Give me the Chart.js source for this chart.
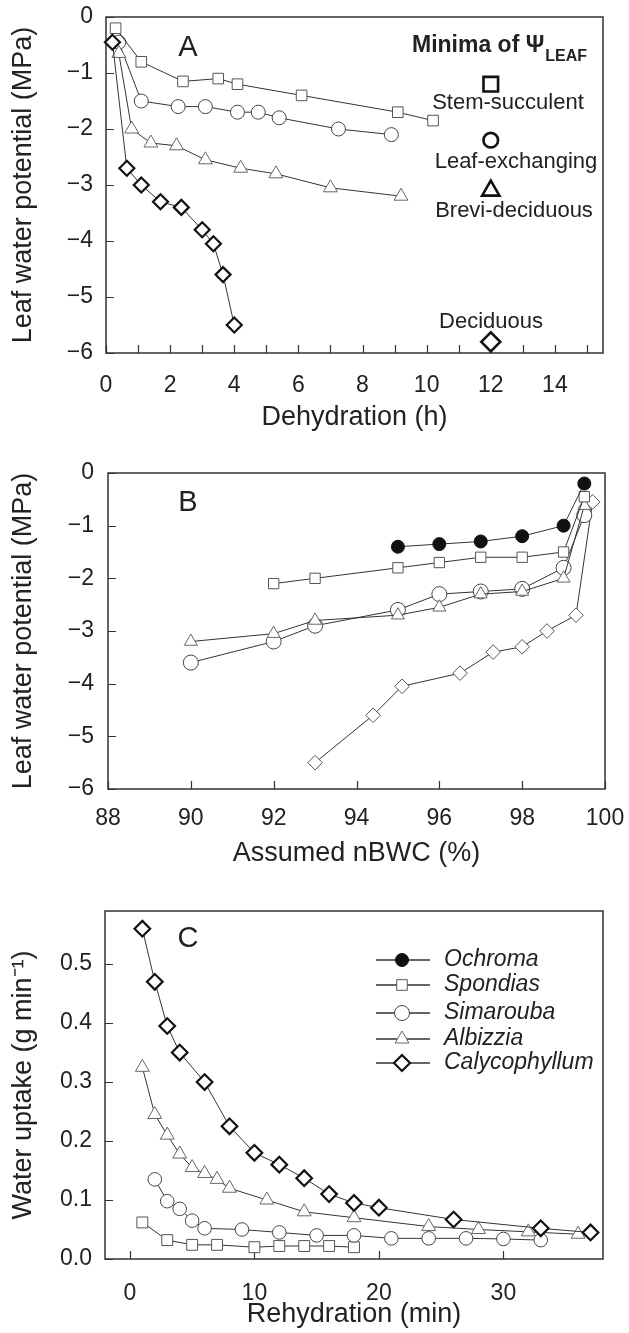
<!DOCTYPE html>
<html><head><meta charset="utf-8">
<script src="https://cdn.jsdelivr.net/npm/chart.js@4/dist/chart.umd.min.js"></script>
<style>
html,body{margin:0;padding:0;background:#fff;width:629px;height:1333px;overflow:hidden}
canvas{position:absolute;left:0}
</style></head><body>
<canvas id="cA" width="629" height="440" style="top:0px"></canvas>
<canvas id="cB" width="629" height="430" style="top:440px"></canvas>
<canvas id="cC" width="629" height="463" style="top:870px"></canvas>
<script>
// ---------- Panel A data: dehydration (h) vs leaf water potential (MPa)
const stemX  = [0.3, 1.1, 2.4, 3.5, 4.1, 6.1, 9.1, 10.2];
const stemY  = [-0.2, -0.8, -1.15, -1.1, -1.2, -1.4, -1.7, -1.85];
const leafX  = [0.4, 1.1, 2.25, 3.1, 4.1, 4.75, 5.4, 7.25, 8.9];
const leafY  = [-0.45, -1.5, -1.6, -1.6, -1.7, -1.7, -1.8, -2.0, -2.1];
const breviX = [0.4, 0.8, 1.4, 2.2, 3.1, 4.2, 5.3, 7.0, 9.2];
const breviY = [-0.65, -2.0, -2.25, -2.3, -2.55, -2.7, -2.8, -3.05, -3.2];
const decidX = [0.2, 0.65, 1.1, 1.7, 2.35, 3.0, 3.35, 3.65, 4.0];
const decidY = [-0.45, -2.7, -3.0, -3.3, -3.4, -3.8, -4.05, -4.6, -5.5];
const minimaX = [12, 12, 12, 12];
const minimaY = [-1.2, -2.2, -3.1, -5.8];
const minimaLabels = ['Stem-succulent', 'Leaf-exchanging', 'Brevi-deciduous', 'Deciduous'];
const aTicksX = [0,1,2,3,4,5,6,7,8,9,10,11,12,13,14,15];
const aTicksY = [-6,-5,-4,-3,-2,-1,0];

// ---------- Panel B data: assumed nBWC (%) vs leaf water potential (MPa)
const ochX = [95, 96, 97, 98, 99, 99.5];
const ochY = [-1.4, -1.35, -1.3, -1.2, -1.0, -0.2];
const spoX = [92, 93, 95, 96, 97, 98, 99, 99.5];
const spoY = [-2.1, -2.0, -1.8, -1.7, -1.6, -1.6, -1.5, -0.45];
const simX = [90, 92, 93, 95, 96, 97, 98, 99, 99.5];
const simY = [-3.6, -3.2, -2.9, -2.6, -2.3, -2.25, -2.2, -1.8, -0.8];
const albX = [90, 92, 93, 95, 96, 97, 98, 99, 99.5];
const albY = [-3.2, -3.05, -2.8, -2.7, -2.55, -2.3, -2.25, -2.0, -0.62];
const calX = [93, 94.4, 95.1, 96.5, 97.3, 98, 98.6, 99.3, 99.7];
const calY = [-5.5, -4.6, -4.05, -3.8, -3.4, -3.3, -3.0, -2.7, -0.55];
const bTicksX = [88, 90, 92, 94, 96, 98, 100];
const bTicksY = [-6,-5,-4,-3,-2,-1,0];

// ---------- Panel C data: rehydration (min) vs water uptake (g/min)
const cCalX = [1, 2, 3, 4, 6, 8, 10, 12, 14, 16, 18, 20, 26, 33, 37];
const cCalY = [0.56, 0.47, 0.395, 0.35, 0.30, 0.225, 0.18, 0.16, 0.137, 0.11, 0.095, 0.087, 0.067, 0.052, 0.045];
const cAlbX = [1, 2, 3, 4, 5, 6, 7, 8, 11, 14, 18, 24, 28, 32, 36];
const cAlbY = [0.325, 0.245, 0.21, 0.178, 0.155, 0.145, 0.135, 0.12, 0.1, 0.08, 0.07, 0.055, 0.05, 0.046, 0.042];
const cSimX = [2, 3, 4, 5, 6, 9, 12, 15, 18, 21, 24, 27, 30, 33];
const cSimY = [0.135, 0.098, 0.085, 0.065, 0.052, 0.05, 0.045, 0.04, 0.04, 0.035, 0.035, 0.035, 0.034, 0.032];
const cSpoX = [1, 3, 5, 7, 10, 12, 14, 16, 18];
const cSpoY = [0.062, 0.032, 0.024, 0.024, 0.02, 0.022, 0.022, 0.022, 0.02];
const cTicksX = [0, 10, 20, 30];
const cTicksY = [0, 0.1, 0.2, 0.3, 0.4, 0.5];
const speciesNames = ['Ochroma', 'Spondias', 'Simarouba', 'Albizzia', 'Calycophyllum'];

// ---------- helpers
const FONT = "'Liberation Sans', Arial, Helvetica, sans-serif";
const INK = '#222';
const TICK_IN = 8;
const minusFmt = v => { const r = Math.round(v * 10) / 10; return r < 0 ? '\u2212' + Math.abs(r) : String(Math.abs(r)); };
const pts = (xs, ys) => xs.map((x, i) => ({x: x, y: ys[i]}));

function series(xs, ys, style, opts) {
  return Object.assign({
    data: pts(xs, ys), showLine: true, borderColor: '#333', borderWidth: 1,
    pointStyle: style, pointRadius: 7, pointHoverRadius: 7,
    pointBackgroundColor: '#fff', pointBorderColor: '#555', pointBorderWidth: 1,
    clip: false, tension: 0, fill: false
  }, opts || {});
}

// outward tick space is kept (invisible) only to place labels; inward ticks are drawn by the frame plugin
function gridOpts(gap) {
  return { drawOnChartArea: false, drawTicks: true, tickLength: gap, color: 'rgba(0,0,0,0)', lineWidth: 1 };
}

function scaleX(min, max, tickVals, label, fmt, gap, titlePadBottom, height) {
  return {
    type: 'linear', position: 'bottom', min: min, max: max,
    afterBuildTicks: s => { s.ticks = tickVals.map(v => ({value: v})); },
    afterFit: s => { s.height = height; },
    grid: gridOpts(gap), border: { display: false },
    ticks: { autoSkip: false, maxRotation: 0, minRotation: 0, padding: 0, color: INK,
             font: { family: FONT, size: 23 }, callback: fmt },
    title: { display: true, text: label, color: INK, font: { family: FONT, size: 27 },
             padding: { top: 0, bottom: titlePadBottom } }
  };
}

function scaleY(min, max, tickVals, label, fmt, gap, titlePadTop, width) {
  return {
    type: 'linear', position: 'left', min: min, max: max,
    afterBuildTicks: s => { s.ticks = tickVals.map(v => ({value: v})); },
    afterFit: s => { s.width = width; },
    grid: gridOpts(gap), border: { display: false },
    ticks: { autoSkip: false, padding: 0, color: INK,
             font: { family: FONT, size: 23 }, callback: fmt },
    title: { display: true, text: label, color: INK, font: { family: FONT, size: 27 },
             padding: { top: titlePadTop, bottom: 0 } }
  };
}

function marker(ctx, style, x, y, r, fill, stroke, lw) {
  ctx.save();
  ctx.beginPath();
  ctx.fillStyle = fill; ctx.strokeStyle = stroke; ctx.lineWidth = lw;
  if (style === 'circle') ctx.arc(x, y, r, 0, Math.PI * 2);
  else if (style === 'rect') { const s = r * Math.SQRT1_2; ctx.rect(x - s, y - s, 2 * s, 2 * s); }
  else if (style === 'triangle') {
    for (let k = 0; k < 3; k++) {
      const a = k * 2 * Math.PI / 3;
      const px = x + Math.sin(a) * r, py = y - Math.cos(a) * r;
      if (k) ctx.lineTo(px, py); else ctx.moveTo(px, py);
    }
    ctx.closePath();
  } else if (style === 'rectRot') {
    ctx.moveTo(x, y - r); ctx.lineTo(x + r, y); ctx.lineTo(x, y + r); ctx.lineTo(x - r, y); ctx.closePath();
  }
  ctx.fill(); ctx.stroke();
  ctx.restore();
}

function framePlugin(extra) {
  return {
    id: 'frame',
    beforeDatasetsDraw(chart) {
      const ctx = chart.ctx, a = chart.chartArea;
      const xs = chart.scales.x, ys = chart.scales.y;
      ctx.save();
      ctx.strokeStyle = '#333'; ctx.lineWidth = 1.2;
      ctx.beginPath();
      xs.ticks.forEach(t => {
        const px = Math.round(xs.getPixelForValue(t.value)) + 0.5;
        ctx.moveTo(px, a.bottom); ctx.lineTo(px, a.bottom - TICK_IN);
      });
      ys.ticks.forEach(t => {
        const py = Math.round(ys.getPixelForValue(t.value)) + 0.5;
        ctx.moveTo(a.left, py); ctx.lineTo(a.left + TICK_IN, py);
      });
      ctx.stroke();
      ctx.lineWidth = 1.5;
      ctx.strokeRect(a.left, a.top, a.right - a.left, a.bottom - a.top);
      ctx.restore();
    },
    afterDraw(chart) { if (extra) extra(chart.ctx, chart); }
  };
}

const baseOptions = (padding, xs, ys) => ({
  responsive: false, animation: false, devicePixelRatio: 1, events: [],
  layout: { padding: padding },
  plugins: { legend: { display: false }, tooltip: { enabled: false } },
  scales: { x: xs, y: ys }
});

// ---------- Panel A
function drawA(ctx) {
  ctx.save();
  ctx.fillStyle = INK;
  ctx.textBaseline = 'alphabetic';
  ctx.textAlign = 'center';
  ctx.font = '29px ' + FONT;
  ctx.fillText('A', 188, 56);
  ctx.textAlign = 'left';
  ctx.font = 'bold 23px ' + FONT;
  const main = 'Minima of \u03A8';
  ctx.fillText(main, 412, 52);
  const w = ctx.measureText(main).width;
  ctx.font = 'bold 16px ' + FONT;
  ctx.fillText('LEAF', 412 + w + 1, 61);
  ctx.font = '22px ' + FONT;
  ctx.textAlign = 'center';
  const lx = [508, 516, 514, 491];
  const ly = [109, 168, 217, 328];
  minimaLabels.forEach((t, i) => ctx.fillText(t, lx[i], ly[i]));
  ctx.restore();
}

new Chart(document.getElementById('cA'), {
  type: 'scatter',
  data: { datasets: [
    { data: pts(minimaX, minimaY), showLine: false, clip: false,
      pointStyle: ['rect', 'circle', 'triangle', 'rectRot'], pointRadius: [10.3, 7.3, 10, 9.5],
      pointHoverRadius: [10.3, 7.3, 10, 9.5],
      pointBackgroundColor: '#fff', pointBorderColor: '#111', pointBorderWidth: 2.6 },
    series(decidX, decidY, 'rectRot', { pointRadius: 7.5, pointHoverRadius: 7.5, pointBorderColor: '#111', pointBorderWidth: 2.2 }),
    series(stemX, stemY, 'rect', { pointRadius: 7.5, pointHoverRadius: 7.5, pointBorderColor: '#555' }),
    series(breviX, breviY, 'triangle', { pointRadius: 8, pointHoverRadius: 8, pointBorderColor: '#666' }),
    series(leafX, leafY, 'circle', { pointRadius: 7, pointBorderColor: '#444' })
  ]},
  options: baseOptions({ top: 17, right: 26, left: 0, bottom: 0 },
    scaleX(0, 15.5, aTicksX, 'Dehydration (h)', v => (v % 2 === 0 ? String(v) : ''), 19, 6, 87),
    scaleY(-6, 0, aTicksY, 'Leaf water potential (MPa)', minusFmt, 13, 7, 106)),
  plugins: [framePlugin(drawA)]
});

// ---------- Panel B
function drawB(ctx) {
  ctx.save();
  ctx.fillStyle = INK; ctx.textAlign = 'center'; ctx.textBaseline = 'alphabetic';
  ctx.font = '29px ' + FONT;
  ctx.fillText('B', 188, 71);
  ctx.restore();
}

new Chart(document.getElementById('cB'), {
  type: 'scatter',
  data: { datasets: [
    series(ochX, ochY, 'circle', { pointRadius: 6.5, pointHoverRadius: 6.5, pointBackgroundColor: '#111', pointBorderColor: '#111' }),
    series(spoX, spoY, 'rect', { pointRadius: 7.3, pointHoverRadius: 7.3, pointBorderColor: '#555' }),
    series(albX, albY, 'triangle', { pointRadius: 7.5, pointHoverRadius: 7.5, pointBorderColor: '#666' }),
    series(simX, simY, 'circle', { pointRadius: 7.5, pointHoverRadius: 7.5, pointBorderColor: '#444' }),
    series(calX, calY, 'rectRot', { pointRadius: 7.3, pointHoverRadius: 7.3, pointBorderColor: '#555' })
  ]},
  options: baseOptions({ top: 33, right: 24, left: 0, bottom: 0 },
    scaleX(88, 100, bTicksX, 'Assumed nBWC (%)', v => String(v), 16, 0, 81),
    scaleY(-6, 0, bTicksY, 'Leaf water potential (MPa)', minusFmt, 14, 7, 108)),
  plugins: [framePlugin(drawB)]
});

// ---------- Panel C
const legendStyles = [
  { s: 'circle', r: 6.5, f: '#111', c: '#111', w: 1 },
  { s: 'rect', r: 7.5, f: '#fff', c: '#555', w: 1 },
  { s: 'circle', r: 7.5, f: '#fff', c: '#444', w: 1 },
  { s: 'triangle', r: 8, f: '#fff', c: '#666', w: 1 },
  { s: 'rectRot', r: 8, f: '#fff', c: '#111', w: 2.2 }
];
function drawC(ctx) {
  ctx.save();
  ctx.fillStyle = INK; ctx.textAlign = 'center'; ctx.textBaseline = 'alphabetic';
  ctx.font = '29px ' + FONT;
  ctx.fillText('C', 188, 77);
  const rows = [90, 115, 143, 169, 193];
  speciesNames.forEach((name, i) => {
    const y = rows[i], st = legendStyles[i];
    ctx.strokeStyle = '#333'; ctx.lineWidth = 1.3;
    ctx.beginPath(); ctx.moveTo(376, y); ctx.lineTo(430, y); ctx.stroke();
    marker(ctx, st.s, 402, y, st.r, st.f, st.c, st.w);
    ctx.fillStyle = INK; ctx.textAlign = 'left'; ctx.textBaseline = 'middle';
    ctx.font = 'italic 23px ' + FONT;
    ctx.fillText(name, 444, y);
  });
  ctx.restore();
}

new Chart(document.getElementById('cC'), {
  type: 'scatter',
  data: { datasets: [
    series(cCalX, cCalY, 'rectRot', { pointRadius: 7.8, pointHoverRadius: 7.8, pointBorderColor: '#111', pointBorderWidth: 2.2 }),
    series(cAlbX, cAlbY, 'triangle', { pointRadius: 8, pointHoverRadius: 8, pointBorderColor: '#666' }),
    series(cSimX, cSimY, 'circle', { pointRadius: 6.8, pointHoverRadius: 6.8, pointBorderColor: '#444' }),
    series(cSpoX, cSpoY, 'rect', { pointRadius: 7.7, pointHoverRadius: 7.7, pointBorderColor: '#555' })
  ]},
  options: baseOptions({ top: 41, right: 26, left: 0, bottom: 0 },
    scaleX(-2, 38, cTicksX, 'Rehydration (min)', v => String(v), 21, 2, 74),
    scaleY(0, 0.59, cTicksY, 'Water uptake (g min\u207B\u00B9)', v => Number(v).toFixed(1), 13, 7, 105)),
  plugins: [framePlugin(drawC)]
});
</script>
</body></html>
